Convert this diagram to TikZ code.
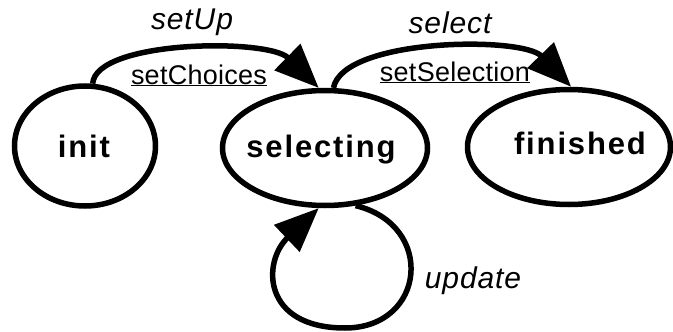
\documentclass[tikz,border=0pt]{standalone}
\usepackage{fontspec}
\setmainfont{Liberation Sans}
\usetikzlibrary{arrows.meta,shapes.geometric}
\newfontfamily\statefont[LetterSpace=6]{Liberation Sans Bold}
\newfontfamily\eventfont[LetterSpace=3]{Liberation Sans Italic}
\newfontfamily\actionfont[LetterSpace=1]{Liberation Sans}
\begin{document}
\begin{tikzpicture}[x=1pt,y=-1pt,
  state/.style={ellipse,draw,line width=5.5pt,inner sep=0pt},
  statename/.style={anchor=base,inner sep=0pt,font=\statefont\fontsize{31}{31}\selectfont},
  event/.style={anchor=base,inner sep=0pt,font=\eventfont\fontsize{30}{30}\selectfont},
  action/.style={anchor=base,inner sep=0pt,font=\actionfont\fontsize{27}{27}\selectfont},
  trans/.style={line width=5.5pt,-{Triangle[length=44pt,width=36pt]}}]
\useasboundingbox (0,0) rectangle (673,332);

% states
\node[state,minimum width=141pt,minimum height=120pt] (init) at (85,146) {};
\node[state,minimum width=205pt,minimum height=115pt] (selecting) at (325,148) {};
\node[state,minimum width=203pt,minimum height=115pt] (finished) at (569,147) {};
\node[statename] (initname) at (84,157) {init};
\node[statename] (selname) at (321,157) {selecting};
\node[statename] (finname) at (580,154) {finished};

% init -> selecting
\draw[trans] (init.83) .. controls (96,40) and (268,38) .. (selecting.96);
\node[event] (setup) at (192,29) {setUp};
\node[action] (setchoices) at (199,84) {\underline{setChoices}};

% selecting -> finished
\draw[trans] (selecting.82) .. controls (343,38) and (522,36) .. (finished.88);
\node[event] (select) at (450,34) {select};
\node[action] (setselection) at (455,81) {\underline{setSelection}};

% selecting -> selecting
\coordinate (loopbottom) at (345,328);
\draw[line width=5.5pt] (selecting.-62) .. controls (436,225) and (426,328) .. (loopbottom);
\draw[trans] (loopbottom) .. controls (262,328) and (262,262) .. (selecting.-96);
\node[event] (update) at (473,288) {update};
\end{tikzpicture}
\end{document}
